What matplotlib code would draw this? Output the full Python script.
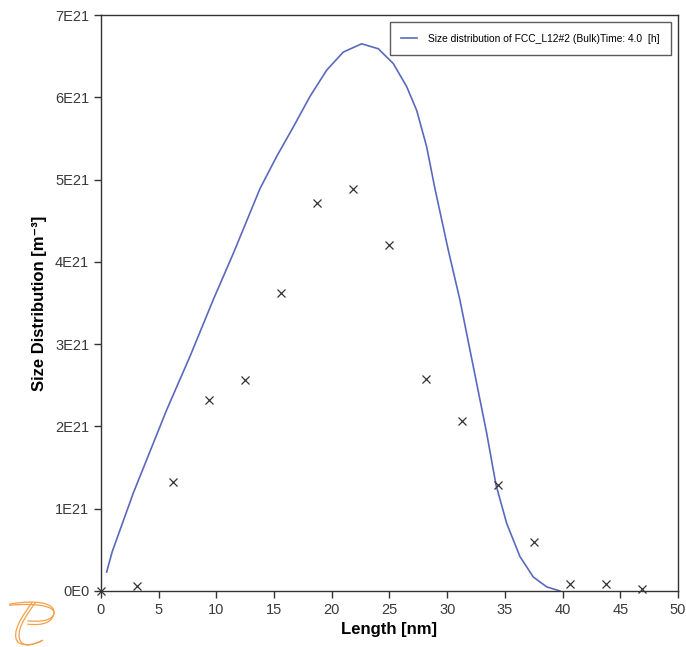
#!/usr/bin/env python3
"""Size distribution of FCC_L12#2 precipitates after 4 h: model curve vs. measured points."""

import matplotlib
matplotlib.use('Agg')
import matplotlib.pyplot as plt
from matplotlib.patches import PathPatch
from matplotlib.path import Path

# Calculated size distribution, length in nm, value in 1E21 m^-3
curve_length = [0.49, 0.98, 2.8, 5.69, 7.71, 9.73, 11.46, 13.78, 15.22, 16.67,
                18.11, 19.56, 21.0, 22.59, 24.03, 25.33, 26.49, 27.36, 28.22, 28.94,
                30.1, 31.1, 32.26, 33.42, 34.23, 35.16, 36.3, 37.46, 38.62, 39.77]
curve_dist = [0.23, 0.48, 1.19, 2.2, 2.85, 3.54, 4.1, 4.89, 5.28, 5.64,
              6.01, 6.33, 6.55, 6.65, 6.59, 6.41, 6.13, 5.84, 5.40, 4.89,
              4.14, 3.54, 2.73, 1.92, 1.29, 0.82, 0.42, 0.17, 0.05, 0.0]

# Experimental points
exp_length = [0, 3.125, 6.25, 9.375, 12.5, 15.625, 18.75, 21.875, 25, 28.125,
              31.25, 34.375, 37.5, 40.625, 43.75, 46.875]
exp_dist = [0.0, 0.06, 1.33, 2.32, 2.57, 3.62, 4.72, 4.88, 4.21, 2.58,
            2.07, 1.29, 0.59, 0.09, 0.08, 0.02]

SCALE = 1e21
y_ticks = [0, 1, 2, 3, 4, 5, 6, 7]
y_tick_labels = ['0E0', '1E21', '2E21', '3E21', '4E21', '5E21', '6E21', '7E21']
x_ticks = [0, 5, 10, 15, 20, 25, 30, 35, 40, 45, 50]

LINE_COLOR = '#5b69bd'
TEXT_COLOR = '#3a3a3a'
LOGO_COLOR = '#f5a04a'

plt.rcParams['font.family'] = ['Liberation Sans', 'DejaVu Sans']


def draw_logo(fig):
    """Rough orange pen-stroke logo in the lower left corner."""
    ax = fig.add_axes([0.012, 0.0, 0.07, 0.075])
    ax.set_xlim(0, 1)
    ax.set_ylim(0, 1)
    ax.axis('off')
    codes = [Path.MOVETO, Path.CURVE4, Path.CURVE4, Path.CURVE4,
             Path.CURVE4, Path.CURVE4, Path.CURVE4]
    for off in (0.0, 0.07):
        bowl = [(0.02, 0.88 - off * 0.3), (0.55, 0.98 - off), (1.0, 0.92 - off), (0.95, 0.68),
                (0.9, 0.45 + off), (0.6, 0.45 + off), (0.4, 0.47 + off)]
        ax.add_patch(PathPatch(Path(bowl, codes), fill=False, ec=LOGO_COLOR, lw=0.9))
        stem = [(0.5 + off, 0.92), (0.3 + off, 0.65), (0.05 + off, 0.3), (0.2 + off, 0.1),
                (0.35, 0.0), (0.55, 0.05), (0.72, 0.14)]
        ax.add_patch(PathPatch(Path(stem, codes), fill=False, ec=LOGO_COLOR, lw=0.9))


def main():
    fig = plt.figure(figsize=(6.86, 6.47), dpi=100)
    ax = fig.add_axes([0.1472, 0.0866, 0.8411, 0.8902])

    ax.plot(curve_length, [v * SCALE for v in curve_dist], color=LINE_COLOR, lw=1.2,
            label='Size distribution of FCC_L12#2 (Bulk)Time: 4.0  [h]')
    ax.plot(exp_length, [v * SCALE for v in exp_dist], ls='none', marker='x',
            color='#333333', ms=6, mew=0.9, clip_on=False)

    ax.set_xlim(0, 50)
    ax.set_ylim(0, 7 * SCALE)
    ax.set_xticks(x_ticks)
    ax.set_yticks([t * SCALE for t in y_ticks])
    ax.set_yticklabels(y_tick_labels)

    ax.tick_params(direction='out', length=5, width=1, color='#333333',
                   labelsize=10.5, labelcolor=TEXT_COLOR)
    for spine in ax.spines.values():
        spine.set_color('#333333')
        spine.set_linewidth(1)

    ax.set_xlabel('Length [nm]', fontsize=12, fontweight='bold', color='black', labelpad=4)
    ax.set_ylabel('Size Distribution [m⁻³]', fontsize=12, fontweight='bold', color='black',
                  labelpad=6)

    leg = ax.legend(loc='upper right', fontsize=7.4, frameon=True, fancybox=False,
                    handlelength=1.5, handletextpad=1.1, borderpad=1.1, borderaxespad=0.7)
    leg.get_frame().set_edgecolor('#333333')
    leg.get_frame().set_linewidth(1)

    draw_logo(fig)

    fig.savefig('out.png', dpi=100)
    plt.close(fig)


if __name__ == '__main__':
    main()
